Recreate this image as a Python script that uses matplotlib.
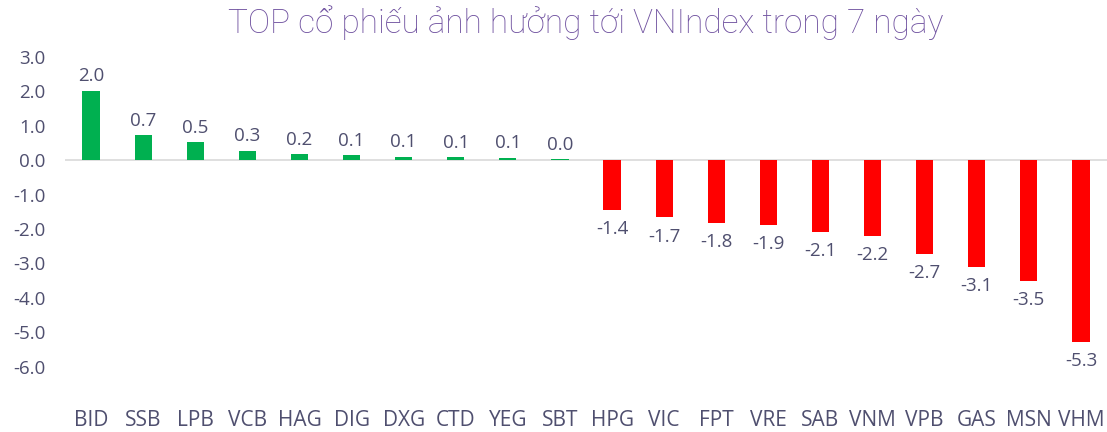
import matplotlib
matplotlib.use("Agg")
import matplotlib.pyplot as plt

categories = ["BID", "SSB", "LPB", "VCB", "HAG", "DIG", "DXG", "CTD", "YEG", "SBT",
              "HPG", "VIC", "FPT", "VRE", "SAB", "VNM", "VPB", "GAS", "MSN", "VHM"]
values = [2.02, 0.72, 0.52, 0.28, 0.17, 0.14, 0.10, 0.09, 0.07, 0.03,
          -1.44, -1.66, -1.82, -1.88, -2.08, -2.2, -2.72, -3.1, -3.5, -5.28]
yticks = [3, 2, 1, 0, -1, -2, -3, -4, -5, -6]
title = "TOP cổ phiếu ảnh hưởng tới VNIndex trong 7 ngày"

GREEN = "#00B050"
RED = "#FF0000"
TXT = "#4F4F6F"
TITLE_C = "#7052A0"

plt.rcParams["font.family"] = ["Open Sans", "DejaVu Sans"]

fig = plt.figure(figsize=(11.07, 4.32), dpi=100)
ax = fig.add_axes([65/1107, 1 - 401/432, 1 - 65/1107, (401 - 57)/432])

x = list(range(len(categories)))
colors = [GREEN if v >= 0 else RED for v in values]
ax.bar(x, values, width=0.33, color=colors, zorder=3)

ax.axhline(0, color="#D9D9D9", lw=1.2, zorder=2)
ax.set_xlim(-0.5, len(categories) - 0.5)
ax.set_ylim(-7, 3)
ax.set_yticks(yticks)
ax.set_yticklabels([f"{t:.1f}" for t in yticks], color=TXT, fontsize=13.5)
ax.set_xticks([])
for s in ax.spines.values():
    s.set_visible(False)
ax.tick_params(axis="y", length=0, pad=14)

for xi, v in zip(x, values):
    if v >= 0:
        ax.annotate(f"{v:.1f}", (xi, v), xytext=(0, 4), textcoords="offset points",
                    ha="center", va="bottom", color=TXT, fontsize=13.5)
    else:
        ax.annotate(f"{v:.1f}", (xi, v), xytext=(0, -7.5), textcoords="offset points",
                    ha="center", va="top", color=TXT, fontsize=13.5)
    ax.annotate(categories[xi], (xi, -7), xytext=(0, -6.5), textcoords="offset points",
                ha="center", va="top", color=TXT, fontsize=15)

ax.set_title(title, color=TITLE_C, fontsize=24, fontweight="light", pad=17,
             family=["Roboto", "DejaVu Sans"])

fig.savefig("out.png", dpi=100)
